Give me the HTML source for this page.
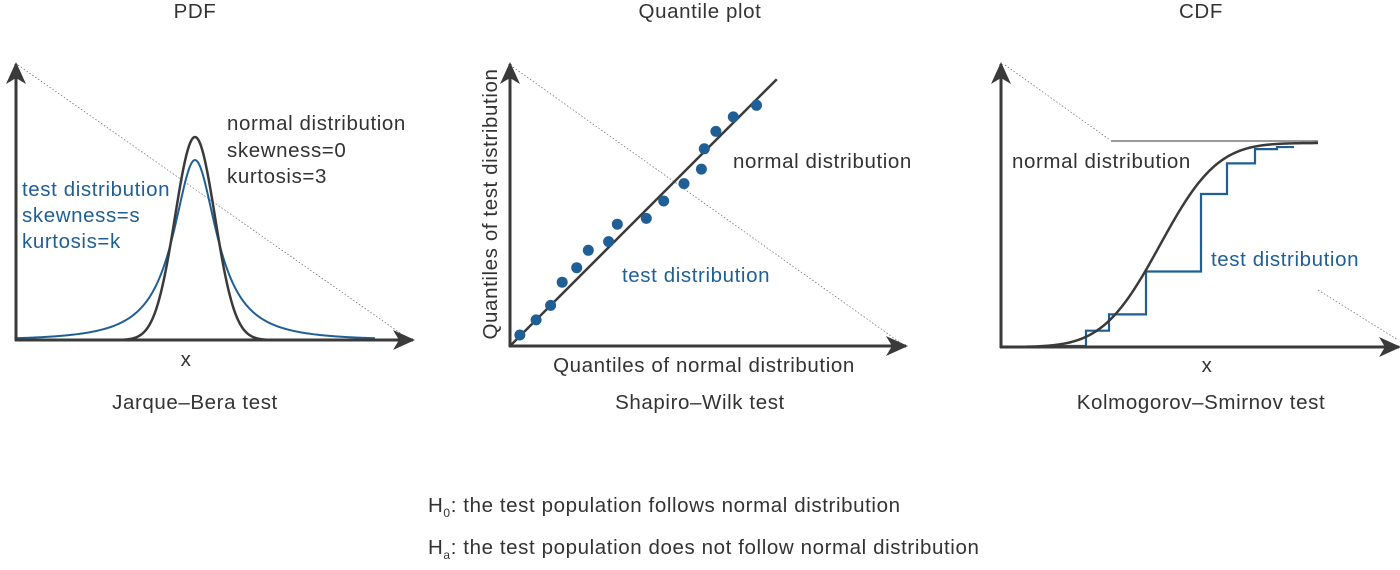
<!DOCTYPE html>
<html><head><meta charset="utf-8"><style>
html,body{margin:0;padding:0;background:#fff;}
svg{display:block;font-family:"Liberation Sans",sans-serif;}
.d{fill:#333;}
.b{fill:#1f5f96;}
</style></head><body>
<svg id="chart" width="1400" height="570" viewBox="0 0 1400 570">
<defs>
<marker id="arr" markerWidth="22" markerHeight="20" refX="20" refY="10" orient="auto" markerUnits="userSpaceOnUse">
<path d="M0,0 L22,10 L0,20 L6,10 Z" fill="#3a3a3a"/>
</marker>
</defs>
<g font-size="20.5" letter-spacing="0.6">
<text x="195" y="18" text-anchor="middle" class="d">PDF</text>
<text x="700" y="18" text-anchor="middle" class="d">Quantile plot</text>
<text x="1201" y="18" text-anchor="middle" class="d">CDF</text>
<text x="195" y="409" text-anchor="middle" class="d">Jarque–Bera test</text>
<text x="700" y="409" text-anchor="middle" class="d">Shapiro–Wilk test</text>
<text x="1201" y="409" text-anchor="middle" class="d">Kolmogorov–Smirnov test</text>
<text x="428" y="512" class="d">H<tspan font-size="12" dy="5">0</tspan><tspan dy="-5">: the test population follows normal distribution</tspan></text>
<text x="428" y="554" class="d">H<tspan font-size="12" dy="5">a</tspan><tspan dy="-5">: the test population does not follow normal distribution</tspan></text>

<text x="227" y="130" class="d">normal distribution</text>
<text x="227" y="157" class="d">skewness=0</text>
<text x="227" y="183" class="d">kurtosis=3</text>
<text x="22" y="196" class="b">test distribution</text>
<text x="22" y="222" class="b">skewness=s</text>
<text x="22" y="248" class="b">kurtosis=k</text>
<text x="186" y="366" text-anchor="middle" class="d">x</text>

<text x="733" y="168" class="d">normal distribution</text>
<text x="622" y="282" class="b">test distribution</text>
<text x="704" y="372" text-anchor="middle" class="d">Quantiles of normal distribution</text>
<text transform="translate(497,204) rotate(-90)" text-anchor="middle" class="d">Quantiles of test distribution</text>

<text x="1012" y="168" class="d">normal distribution</text>
<text x="1211" y="266" class="b">test distribution</text>
<text x="1207" y="372" text-anchor="middle" class="d">x</text>
</g>
<g id="marks"></g>
</svg>
<script>
// PDF panel parameters
const pdfNormal = [195, 20, 203];    // center x, sigma(px), peak height(px)
const pdfTest = [195, 25, 180];      // center x, gamma(px), peak height(px)
// QQ points (normal quantile, test quantile)
const qqX = [0.034,0.09,0.14,0.18,0.23,0.27,0.34,0.37,0.47,0.53,0.60,0.66,0.67,0.71,0.77,0.85];
const qqY = [0.038,0.09,0.14,0.22,0.27,0.33,0.36,0.42,0.44,0.50,0.56,0.61,0.68,0.74,0.79,0.83];
// CDF panel
const cdfParams = [1160, 45];        // center x, sigma
const stepX = [1050,1086,1109,1146,1201,1227,1255,1277,1294];
const stepY = [0.005,0.08,0.16,0.37,0.75,0.90,0.97,0.98,0.98];

const NS='http://www.w3.org/2000/svg';
const g=document.getElementById('marks');
function mk(t,a){const e=document.createElementNS(NS,t);for(const k in a)e.setAttribute(k,a[k]);g.appendChild(e);return e;}
const dark='#3a3a3a', blue='#1f5f96';

let e;
e=mk('line',{x1:18,y1:65,x2:410,y2:340,stroke:'#666','stroke-width':0.7,'stroke-dasharray':'1.5,2'});


const base1=340;
let pn='',pt='';
for(let x=16;x<=375;x+=1){
  const yn=base1-pdfNormal[2]*Math.exp(-0.5*Math.pow((x-pdfNormal[0])/pdfNormal[1],2));
  const u=(x-pdfTest[0])/pdfTest[1];
  const yt=base1-pdfTest[2]/(1+u*u*0.9+u*u*u*u*0.02);
  pn+=(x===16?'M':'L')+x+','+yn.toFixed(2);
  pt+=(x===16?'M':'L')+x+','+yt.toFixed(2);
}
e=mk('path',{d:pt,fill:'none',stroke:blue,'stroke-width':2});


e=mk('path',{d:pn,fill:'none',stroke:dark,'stroke-width':2.5});


e=mk('line',{x1:16,y1:341,x2:16,y2:64,stroke:dark,'stroke-width':3,'marker-end':'url(#arr)'});


e=mk('line',{x1:15,y1:340,x2:413,y2:340,stroke:dark,'stroke-width':3,'marker-end':'url(#arr)'});



const ox=510, oy=346, W=290, H=290;
const sx=v=>ox+v*W, sy=v=>oy-v*H;
e=mk('line',{x1:510,y1:65,x2:905,y2:346,stroke:'#666','stroke-width':0.7,'stroke-dasharray':'1.5,2'});


e=mk('line',{x1:sx(0),y1:sy(0),x2:sx(0.92),y2:sy(0.92),stroke:dark,'stroke-width':2.5});


qqX.forEach((v,i)=>{
  const c=mk('circle',{cx:sx(v),cy:sy(qqY[i]),r:5.5,fill:blue});
  
  
});
e=mk('line',{x1:510,y1:347,x2:510,y2:64,stroke:dark,'stroke-width':3,'marker-end':'url(#arr)'});


e=mk('line',{x1:509,y1:346,x2:906,y2:346,stroke:dark,'stroke-width':3,'marker-end':'url(#arr)'});



const base3=347, top3=143;
const cy=v=>base3-v*(base3-top3);
e=mk('path',{d:'M1005,65 L1110,140 M1318,290 L1398,340',stroke:'#666','stroke-width':0.7,'stroke-dasharray':'1.5,2',fill:'none'});


e=mk('line',{x1:1111,y1:141,x2:1318,y2:141,stroke:dark,'stroke-width':1});


let sp='M'+stepX[0]+','+cy(stepY[0]);
for(let i=1;i<stepX.length;i++){sp+='L'+stepX[i]+','+cy(stepY[i-1])+'L'+stepX[i]+','+cy(stepY[i]);}
e=mk('path',{d:sp,fill:'none',stroke:blue,'stroke-width':2.2});


function erf(x){const s=Math.sign(x);x=Math.abs(x);const t=1/(1+0.3275911*x);const y=1-(((((1.061405429*t-1.453152027)*t)+1.421413741)*t-0.284496736)*t+0.254829592)*t*Math.exp(-x*x);return s*y;}
let cp='';
for(let x=1020;x<=1318;x+=1){const v=0.5*(1+erf((x-cdfParams[0])/(cdfParams[1]*Math.SQRT2)));cp+=(x===1020?'M':'L')+x+','+cy(v).toFixed(2);}
e=mk('path',{d:cp,fill:'none',stroke:dark,'stroke-width':2.5});


e=mk('line',{x1:1001,y1:348,x2:1001,y2:64,stroke:dark,'stroke-width':3,'marker-end':'url(#arr)'});


e=mk('line',{x1:1000,y1:347,x2:1399,y2:347,stroke:dark,'stroke-width':3,'marker-end':'url(#arr)'});


</script>
</body></html>
